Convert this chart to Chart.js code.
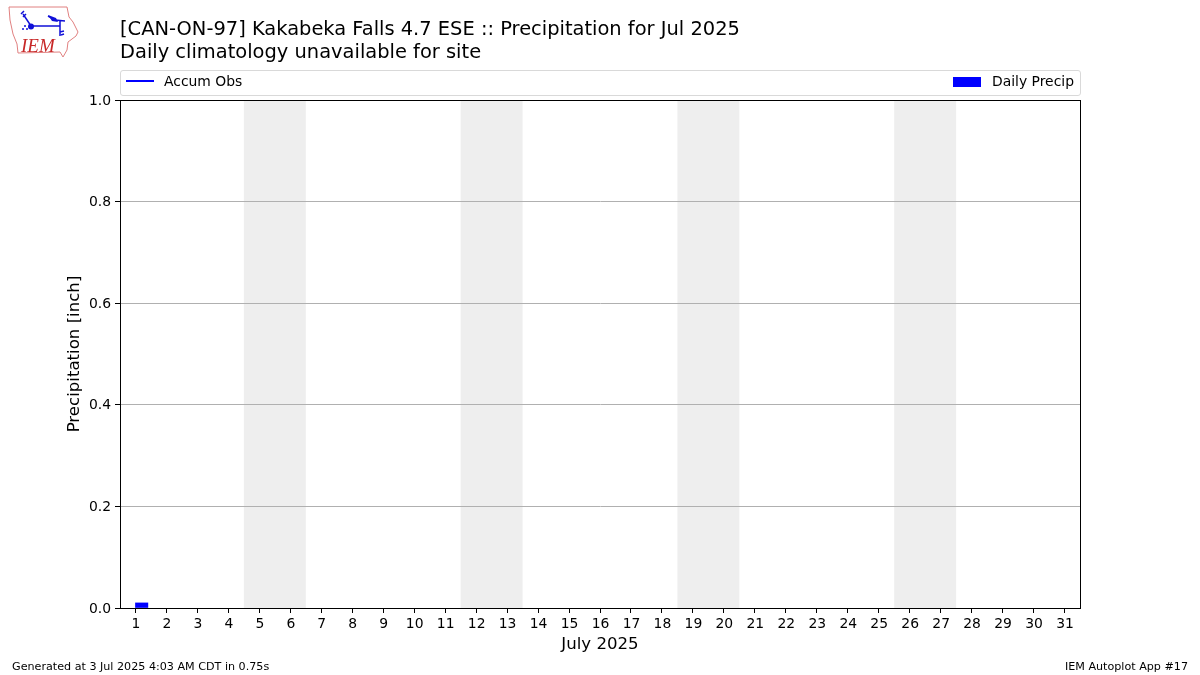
<!DOCTYPE html>
<html>
<head>
<meta charset="utf-8">
<title>Kakabeka Falls precipitation</title>
<script src="https://cdn.jsdelivr.net/npm/chart.js@4"></script>
<style>
    html, body { margin: 0; padding: 0; background: #fff; }
    body { width: 1200px; height: 675px; position: relative; overflow: hidden; font-family: "DejaVu Sans", sans-serif; color: #000; }
    #grafico { position: absolute; left: 0; top: 0; }
    .texto { position: absolute; white-space: nowrap; }
    #titulo { left: 120px; top: 18px; font-size: 19.46px; line-height: 22.6px; }
    #leyenda { position: absolute; left: 120px; top: 70px; width: 959px; height: 24px; border: 1px solid #d9d9d9; border-radius: 3px; font-size: 13.9px; }
    #leyenda span { position: absolute; top: 2px; line-height: 17px; }
    #linea { position: absolute; left: 5px; top: 9px; width: 28px; height: 2px; background: #0000ff; }
    #caja { position: absolute; left: 832px; top: 6px; width: 28px; height: 10px; background: #0000ff; }
    .pie { font-size: 11.15px; top: 660px; }
    #logo { position: absolute; left: 0; top: 0; }
</style>
</head>
<body>
<canvas id="grafico" width="1200" height="675"></canvas>

<svg id="logo" width="90" height="65" viewBox="0 0 90 65">
    <path d="M9 7 L67 7 L69 17 L73 22 L78 32 L76 36 L68 42 L67 50 L63 57 L60 52 L18 53 L17 44 L13 34 L10 20 Z" fill="#fff" stroke="#e08080" stroke-width="1"/>
    <path d="M23 14 L31 26 L60 26 M60 20 L60 36 M48 16 L55 20 L65 21 M21 14 L24 11 M23 17 L26 14 M60 32 L64 31 M61 35 L64 34" stroke="#1010d8" stroke-width="1.5" fill="none"/>
    <path d="M48 15 L56 18 L58 22 L52 21 Z" fill="#1010d8"/>
    <circle cx="31" cy="26.5" r="3" fill="#1010d8"/>
    <circle cx="23" cy="29" r="1" fill="#1010d8"/>
    <circle cx="27" cy="29" r="1" fill="#1010d8"/>
    <circle cx="25" cy="26" r="1" fill="#1010d8"/>
    <text x="21" y="52" font-family="Liberation Serif" font-style="italic" font-size="19" fill="#c82828">IEM</text>
</svg>

<div class="texto" id="titulo">[CAN-ON-97] Kakabeka Falls 4.7 ESE :: Precipitation for Jul 2025<br>Daily climatology unavailable for site</div>

<div id="leyenda">
    <div id="linea"></div><span style="left:43px">Accum Obs</span>
    <div id="caja"></div><span style="left:871px">Daily Precip</span>
</div>

<div class="texto pie" style="left:12px">Generated at 3 Jul 2025 4:03 AM CDT in 0.75s</div>
<div class="texto pie" style="right:12px">IEM Autoplot App #17</div>

<script>
// datos
var dias = [1, 2, 3, 4, 5, 6, 7, 8, 9, 10, 11, 12, 13, 14, 15, 16, 17, 18, 19, 20, 21, 22, 23, 24, 25, 26, 27, 28, 29, 30, 31];
var diasLluvia = [1.2];
var lluvia = [0.01];
var fines = [[4.5, 6.5], [11.5, 13.5], [18.5, 20.5], [25.5, 27.5]];
var marcasY = [0, 0.2, 0.4, 0.6, 0.8, 1];

var fuente = '"DejaVu Sans"';

// franjas grises de fin de semana y marco del grafico
var franjas = {
    id: 'franjas',
    beforeDraw: function(chart) {
        var ctx = chart.ctx, a = chart.chartArea, x = chart.scales.x;
        ctx.save();
        ctx.fillStyle = '#eeeeee';
        fines.forEach(function(f) {
            ctx.fillRect(x.getPixelForValue(f[0]), a.top, x.getPixelForValue(f[1]) - x.getPixelForValue(f[0]), a.bottom - a.top);
        });
        ctx.restore();
    },
    afterDraw: function(chart) {
        var ctx = chart.ctx, a = chart.chartArea;
        ctx.save();
        ctx.strokeStyle = '#000';
        ctx.lineWidth = 1;
        ctx.strokeRect(Math.round(a.left) + 0.5, Math.round(a.top) + 0.5, a.right - a.left, a.bottom - a.top);
        ctx.restore();
    }
};

new Chart(document.getElementById('grafico'), {
    type: 'bar',
    data: {
        datasets: [{
            label: 'Daily Precip',
            data: diasLluvia.map(function(d, i) { return { x: d, y: lluvia[i] }; }),
            backgroundColor: '#0000ff',
            barThickness: 12.4
        }]
    },
    options: {
        responsive: false,
        animation: false,
        layout: { padding: { top: 100, right: 120, left: 65, bottom: 20 } },
        plugins: { legend: { display: false }, tooltip: { enabled: false } },
        scales: {
            x: {
                type: 'linear',
                min: 0.5,
                max: 31.5,
                offset: false,
                afterFit: function(s) { s.height = 47; },
                afterBuildTicks: function(s) { s.ticks = dias.map(function(d) { return { value: d }; }); },
                grid: { offset: false, drawOnChartArea: false, tickLength: 5, tickColor: '#000', tickWidth: 1 },
                border: { color: '#000', width: 1 },
                ticks: { color: '#000', autoSkip: false, maxRotation: 0, padding: 3, labelOffset: 0.5, font: { family: fuente, size: 13.9 }, callback: function(v) { return v; } },
                title: { display: true, text: 'July 2025', color: '#000', padding: { top: 4, bottom: 0 }, font: { family: fuente, size: 16.6 } }
            },
            y: {
                min: 0,
                max: 1,
                afterFit: function(s) { s.width = 55; },
                afterBuildTicks: function(s) { s.ticks = marcasY.map(function(v) { return { value: v }; }); },
                grid: { color: '#b0b0b0', tickLength: 5, tickColor: '#000', lineWidth: 1 },
                border: { color: '#000', width: 1 },
                ticks: { color: '#000', padding: 4, labelOffset: 1, font: { family: fuente, size: 13.9 }, callback: function(v) { return v.toFixed(1); } },
                title: { display: true, text: 'Precipitation [inch]', color: '#000', padding: { top: 0, bottom: 0 }, font: { family: fuente, size: 16.6 } }
            }
        }
    },
    plugins: [franjas]
});
</script>
</body>
</html>
